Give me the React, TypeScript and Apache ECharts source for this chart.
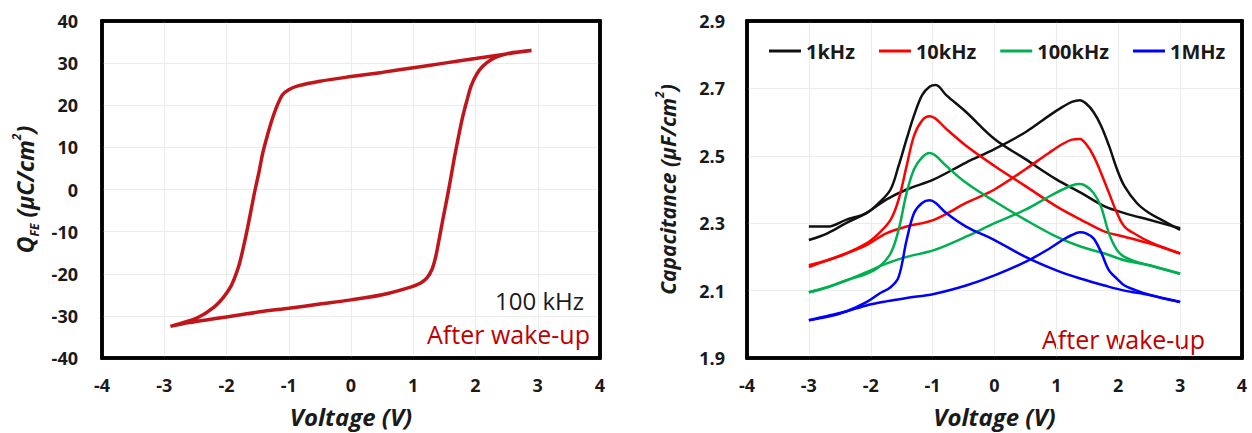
import React, { useEffect, useRef } from "react";
import * as echarts from "echarts";

// ---------- Left: P-V hysteresis loop (100 kHz) ----------
// sweep from +2.9 V down to -2.9 V (upper branch), then back up (lower branch)
const loopV = [
  2.9, 2.5, 2.0, 1.5, 1.0, 0.5, 0.0, -0.5, -0.85, -1.0, -1.1, -1.19, -1.27, -1.34, -1.42, -1.48, -1.54, -1.6, -1.66,
  -1.73, -1.79, -1.85, -1.93, -2.05, -2.2, -2.46, -2.7, -2.9,
  -2.6, -2.2, -1.8, -1.4, -1.0, -0.5, 0.0, 0.5, 0.97, 1.12, 1.22, 1.3, 1.36, 1.42, 1.48, 1.54, 1.6, 1.66, 1.72,
  1.79, 1.86, 1.93, 2.02, 2.12, 2.25, 2.4, 2.6, 2.9,
];
const loopQ = [
  33.0, 32.2, 31.1, 30.0, 28.9, 27.8, 26.8, 25.7, 24.6, 23.7, 22.5, 19.8, 16.5, 13.0, 8.5, 4.0, 0.0, -4.5, -9.0,
  -13.8, -17.5, -20.2, -23.0, -25.6, -27.9, -30.4, -31.6, -32.5,
  -31.6, -30.7, -29.8, -28.9, -28.2, -27.2, -26.2, -25.0, -23.1, -22.2, -21.0, -19.0, -16.0, -11.5, -6.8, -2.3, 2.5,
  7.5, 12.0, 17.0, 21.0, 24.6, 27.4, 29.3, 30.8, 31.8, 32.5, 33.0,
];

// ---------- Right: C-V curves, two sweep branches per frequency ----------
const freqNames = ["1kHz", "10kHz", "100kHz", "1MHz"];
const freqColors = ["#111111", "#ff0000", "#00b050", "#0000ff"];

// branch with the peak near -1 V
const cvL_V = [-3.0, -2.7, -2.4, -2.07, -1.87, -1.68, -1.55, -1.42, -1.3, -1.17, -1.05, -0.95, -0.78, -0.46, 0.0, 0.5, 1.0, 1.4, 1.78, 2.1, 2.5, 3.0];
const cvL_1k = [2.29, 2.29, 2.31, 2.33, 2.36, 2.40, 2.47, 2.55, 2.62, 2.68, 2.705, 2.71, 2.68, 2.63, 2.55, 2.49, 2.43, 2.39, 2.35, 2.33, 2.31, 2.285];
const cvL_10k = [2.175, 2.19, 2.21, 2.24, 2.27, 2.31, 2.37, 2.47, 2.56, 2.605, 2.617, 2.61, 2.58, 2.53, 2.47, 2.41, 2.35, 2.31, 2.275, 2.26, 2.24, 2.21];
const cvL_100k = [2.095, 2.11, 2.13, 2.15, 2.17, 2.21, 2.28, 2.39, 2.46, 2.495, 2.508, 2.5, 2.47, 2.42, 2.365, 2.31, 2.26, 2.23, 2.21, 2.19, 2.175, 2.15];
const cvL_1M = [2.012, 2.022, 2.038, 2.066, 2.09, 2.11, 2.14, 2.25, 2.33, 2.36, 2.368, 2.36, 2.33, 2.29, 2.25, 2.2, 2.16, 2.135, 2.115, 2.1, 2.087, 2.066];

// branch with the peak near +1.35 V
const cvR_V = [-3.0, -2.7, -2.4, -2.07, -1.75, -1.42, -0.98, -0.46, 0.0, 0.5, 0.89, 1.1, 1.25, 1.38, 1.48, 1.6, 1.72, 1.85, 1.98, 2.1, 2.3, 2.5, 2.7, 3.0];
const cvR_1k = [2.25, 2.27, 2.3, 2.33, 2.37, 2.40, 2.43, 2.48, 2.52, 2.57, 2.62, 2.645, 2.66, 2.665, 2.655, 2.63, 2.59, 2.53, 2.46, 2.41, 2.36, 2.33, 2.31, 2.28];
const cvR_10k = [2.17, 2.19, 2.21, 2.235, 2.27, 2.29, 2.31, 2.36, 2.40, 2.46, 2.51, 2.535, 2.548, 2.55, 2.535, 2.5, 2.45, 2.39, 2.33, 2.29, 2.265, 2.245, 2.23, 2.21];
const cvR_100k = [2.095, 2.11, 2.13, 2.155, 2.18, 2.2, 2.22, 2.26, 2.30, 2.34, 2.38, 2.40, 2.412, 2.416, 2.41, 2.39, 2.35, 2.27, 2.22, 2.2, 2.185, 2.175, 2.165, 2.15];
const cvR_1M = [2.012, 2.025, 2.038, 2.056, 2.068, 2.078, 2.09, 2.115, 2.145, 2.185, 2.225, 2.25, 2.265, 2.273, 2.27, 2.255, 2.215, 2.16, 2.135, 2.115, 2.1, 2.088, 2.078, 2.066];

// ---------- Axes ticks ----------
const xMin = -4, xMax = 4, xStep = 1;
const qMin = -40, qMax = 40, qStep = 10;
const cMin = 1.9, cMax = 2.9, cStep = 0.1; // labels every 0.2 from 1.9

const zip = (xs: number[], ys: number[]) => xs.map((x, i) => [x, ys[i]]);

const FONT = "'Open Sans', 'Liberation Sans', sans-serif";

export default function App() {
  const ref = useRef<HTMLDivElement>(null);
  useEffect(() => {
    if (!ref.current) return;
    const chart = echarts.init(ref.current, undefined, { renderer: "svg" });

    const tickLabel = { fontFamily: FONT, fontWeight: "bold" as const, fontSize: 18, color: "#1a1a1a" };
    const splitLine = { show: true, showMinLine: false, showMaxLine: false, lineStyle: { color: "#ececec", width: 1 } };
    const nameStyle = { fontFamily: FONT, fontWeight: "bold" as const, fontStyle: "italic" as const, fontSize: 23, color: "#1a1a1a" };
    const frameLine = () => ({ show: true, onZero: false, lineStyle: { color: "#000000", width: 3.5, opacity: 1 } });

    const Lsets = [cvL_1k, cvL_10k, cvL_100k, cvL_1M];
    const Rsets = [cvR_1k, cvR_10k, cvR_100k, cvR_1M];
    const cvSeries: any[] = [];
    freqNames.forEach((name, i) => {
      [zip(cvL_V, Lsets[i]), zip(cvR_V, Rsets[i])].forEach((d) => {
        cvSeries.push({
          type: "line",
          name,
          xAxisIndex: 1,
          yAxisIndex: 1,
          data: d,
          showSymbol: false,
          smooth: 0.35,
          lineStyle: { color: freqColors[i], width: 2.5 },
          itemStyle: { color: freqColors[i] },
          z: 8,
        });
      });
    });

    // extra axes that only draw the top and right sides of each frame
    const frameX = (g: number) => ({
      type: "value", gridIndex: g, position: "top", min: xMin, max: xMax, interval: xStep,
      axisLine: frameLine(), axisTick: { show: false }, axisLabel: { show: false }, splitLine: { show: false }, z: 9,
    });
    const frameY = (g: number, mn: number, mx: number, st: number) => ({
      type: "value", gridIndex: g, position: "right", min: mn, max: mx, interval: st,
      axisLine: frameLine(), axisTick: { show: false }, axisLabel: { show: false }, splitLine: { show: false }, z: 9,
    });
    const gridFrame = { show: true, borderColor: "#000000", borderWidth: 3.5, backgroundColor: "transparent" };

    chart.setOption({
      animation: false,
      backgroundColor: "#ffffff",
      grid: [
        { left: 102, right: 652, top: 21, bottom: 72, ...gridFrame },
        { left: 747, right: 10, top: 21, bottom: 72, ...gridFrame },
      ],
      legend: {
        data: freqNames,
        left: 764,
        top: 36,
        z: 10,
        icon: "rect",
        itemWidth: 32,
        itemHeight: 3,
        itemGap: 24,
        textStyle: { fontFamily: FONT, fontWeight: "bold", fontSize: 20, color: "#1a1a1a" },
      },
      xAxis: [
        ...[0, 1].map((g) => ({
          type: "value", gridIndex: g, position: "bottom", min: xMin, max: xMax, interval: xStep,
          axisLine: frameLine(), axisTick: { show: false }, splitLine, z: 5,
          axisLabel: { ...tickLabel, margin: 18 },
          name: "Voltage (V)", nameLocation: "middle", nameGap: 46, nameTextStyle: { ...nameStyle, fontSize: 24 },
        })),
        frameX(0),
        frameX(1),
      ],
      yAxis: [
        {
          type: "value", gridIndex: 0, position: "left", min: qMin, max: qMax, interval: qStep,
          axisLine: frameLine(), axisTick: { show: false }, splitLine, z: 5,
          axisLabel: { ...tickLabel, margin: 24 },
          name: "{b|Q}{s|FE}{b| (µC/cm}{p|2}{b|)}",
          nameLocation: "middle", nameGap: 62, nameRotate: 90,
          nameTextStyle: {
            ...nameStyle,
            rich: {
              b: { ...nameStyle, fontSize: 23, lineHeight: 30 },
              s: { ...nameStyle, fontSize: 12, lineHeight: 13, verticalAlign: "bottom" },
              p: { ...nameStyle, fontSize: 12, lineHeight: 13, verticalAlign: "top" },
            },
          },
        },
        {
          type: "value", gridIndex: 1, position: "left", min: cMin, max: cMax, interval: cStep,
          axisLine: frameLine(), axisTick: { show: false }, z: 5,
          // min/max lines skipped, so the first drawn line is 2.0: colours alternate from there
          splitLine: { show: true, showMinLine: false, showMaxLine: false, lineStyle: { color: ["transparent", "#ececec"], width: 1 } },
          axisLabel: {
            ...tickLabel, margin: 22,
            formatter: (v: number) => (Math.round(v * 10) % 2 === 1 ? v.toFixed(1) : ""),
          },
          name: "{b|Capacitance (µF/cm}{p|2}{b|)}",
          nameLocation: "middle", nameGap: 64, nameRotate: 90,
          nameTextStyle: {
            ...nameStyle,
            rich: {
              b: { ...nameStyle, fontSize: 21, lineHeight: 30 },
              p: { ...nameStyle, fontSize: 12, lineHeight: 13, verticalAlign: "top" },
            },
          },
        },
        frameY(0, qMin, qMax, qStep),
        frameY(1, cMin, cMax, cStep),
      ],
      series: [
        {
          type: "line",
          name: "QFE",
          xAxisIndex: 0,
          yAxisIndex: 0,
          data: zip(loopV, loopQ),
          showSymbol: false,
          smooth: 0.3,
          lineStyle: { color: "#c0161b", width: 3.5 },
          z: 8,
        },
        ...cvSeries,
      ],
      graphic: [
        { type: "text", right: 1252 - 584, top: 288, style: { text: "100 kHz", fontFamily: FONT, fontSize: 24, fill: "#1a1a1a" } },
        { type: "text", right: 1252 - 590, top: 321, style: { text: "After wake-up", fontFamily: FONT, fontSize: 25, fill: "#c00000" } },
        { type: "text", right: 1252 - 1205, top: 326, style: { text: "After wake-up", fontFamily: FONT, fontSize: 25, fill: "#c00000" } },
      ],
    });
    return () => chart.dispose();
  }, []);
  return <div ref={ref} style={{ position: "absolute", left: 0, top: 0, width: 1252, height: 433 }} />;
}
